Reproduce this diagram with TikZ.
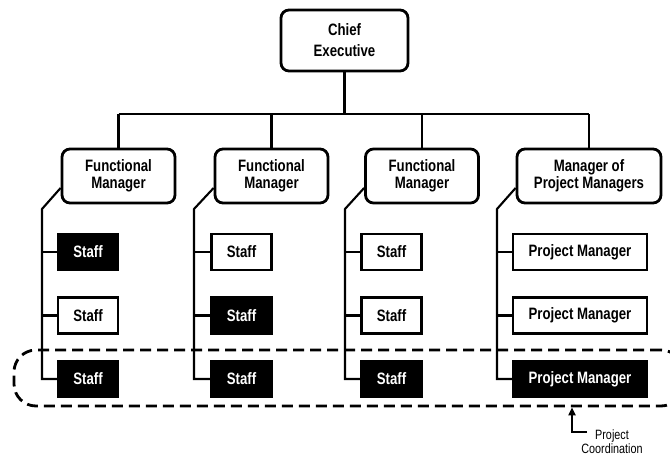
\documentclass[tikz,border=0pt]{standalone}
\usepackage{fontspec}
\newfontfamily\orgfont{Liberation Sans}[FakeStretch=0.8]
\usetikzlibrary{arrows.meta}
\begin{document}
\begin{tikzpicture}[x=1pt,y=-1pt,
  every node/.style={font=\orgfont\bfseries\fontsize{16.5}{17}\selectfont, align=center, inner sep=0pt},
  headbox/.style={draw, line width=2.8pt, rounded corners=8pt, fill=white, minimum width=113pt, minimum height=54pt},
  staffw/.style={draw, line width=2.4pt, fill=white, text=black, minimum width=60pt, minimum height=36pt},
  staffb/.style={staffw, fill=black, text=white},
  pmw/.style={staffw, minimum width=134pt},
  pmb/.style={staffb, minimum width=134pt},
  link/.style={line width=2.1pt},
  coordbox/.style={draw, dashed, dash pattern=on 11pt off 6pt, line width=2.8pt, rounded corners=22pt, minimum width=669pt, minimum height=56pt},
]
\useasboundingbox (0,0) rectangle (670,456);

% top of the hierarchy
\node[headbox, minimum width=127pt, minimum height=61pt, font=\orgfont\bfseries\fontsize{16.5}{21}\selectfont] (ceo) at (344.5,40.5) {Chief\\Executive};

% second level
\node[headbox] (m1) at (118.5,176) {Functional\\Manager};
\node[headbox] (m2) at (271.5,176) {Functional\\Manager};
\node[headbox] (m3) at (422,176) {Functional\\Manager};
\node[headbox, minimum width=144pt] (m4) at (589,176) {Manager of\\Project Managers};

\coordinate (bus) at (0,114);
\draw[link] (ceo.south) -- (ceo.south |- bus);
\draw[link] (m1.north |- bus) -- (m4.north |- bus);
\foreach \m in {m1,m2,m3,m4} \draw[link] (\m.north |- bus) -- (\m.north);

% staff columns
\node[staffb] (s11) at (88,252) {Staff};
\node[staffw] (s12) at (88,315.5) {Staff};
\node[staffb] (s13) at (88,379) {Staff};

\node[staffw] (s21) at (241.5,252) {Staff};
\node[staffb] (s22) at (241.5,315.5) {Staff};
\node[staffb] (s23) at (241.5,379) {Staff};

\node[staffw] (s31) at (391.5,252) {Staff};
\node[staffw] (s32) at (391.5,315.5) {Staff};
\node[staffb] (s33) at (391.5,379) {Staff};

\node[pmw] (s41) at (580,252) {Project Manager};
\node[pmw] (s42) at (580,315.5) {Project Manager};
\node[pmb] (s43) at (580,379) {Project Manager};

% reporting lines
\coordinate (v1) at (42,209);
\coordinate (v2) at (194,209);
\coordinate (v3) at (345,209);
\coordinate (v4) at (497,209);
\foreach \i in {1,2,3,4} {
  \draw[link, line join=miter] ([yshift=-12pt]m\i.west) -- (v\i) -- (v\i |- s\i3.west) -- (s\i3.west);
  \draw[link] (v\i |- s\i1.west) -- (s\i1.west);
  \draw[link] (v\i |- s\i2.west) -- (s\i2.west);
}

% project coordination band
\node[coordbox] (band) at (348.5,378) {};
\coordinate (pcbend) at (572,432);
\coordinate (pcend) at (587,432);
\draw[link, line width=2.2pt, -{Triangle[length=8pt,width=7pt]}] (pcend) -- (pcbend) -- (pcbend |- band.south);
\node[font=\orgfont\fontsize{13.5}{14}\selectfont] (pclabel) at (612,441.5) {Project\\Coordination};
\end{tikzpicture}
\end{document}
